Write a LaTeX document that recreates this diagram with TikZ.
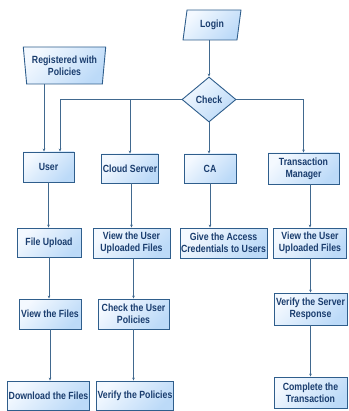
\documentclass[tikz,border=0pt]{standalone}
\usepackage{fontspec}
\setmainfont{Liberation Sans}[FakeStretch=0.84]
\usetikzlibrary{shapes.geometric,arrows.meta,calc}
\definecolor{boxedge}{HTML}{2F5E8C}
\definecolor{boxlight}{HTML}{F4F9FF}
\definecolor{boxdark}{HTML}{BCDAF8}
\definecolor{boxtext}{HTML}{1A3D6E}
\definecolor{wire}{HTML}{41698F}
\begin{document}
\begin{tikzpicture}[x=1pt,y=-1pt,
  every node/.style={font=\fontsize{10.4}{11.7}\selectfont\bfseries, text=boxtext, align=center, inner sep=1pt},
  shaded/.style={draw=boxedge, line width=0.9pt, top color=boxlight, bottom color=boxdark, shading angle=45},
  stepbox/.style={shaded, rectangle},
  arr/.style={draw=wire, line width=0.9pt, -{Stealth[length=3pt,width=2.6pt]}}]
\useasboundingbox (0,0) rectangle (348,411);

% start symbols
\node[shaded, trapezium, trapezium stretches=true, trapezium left angle=80, trapezium right angle=100,
      minimum width=58, minimum height=30] (login) at (212,25) {Login};
\node[shaded, trapezium, trapezium stretches=true, trapezium left angle=98, trapezium right angle=98,
      minimum width=83, minimum height=37] (reg) at (64.5,65.5) {Registered with\\Policies};
\node[shaded, diamond, minimum width=54, minimum height=45, inner sep=0pt] (check) at (209,99.5) {Check};

% roles
\node[stepbox, minimum width=51, minimum height=30] (user)  at (48.5,167)   {User};
\node[stepbox, minimum width=56, minimum height=29] (cloud) at (130,168.5)  {Cloud Server};
\node[stepbox, minimum width=52, minimum height=29] (ca)    at (210,168.5)  {CA};
\node[stepbox, minimum width=71, minimum height=31] (tm)    at (303.5,168.5){Transaction\\Manager};

% second row
\node[stepbox, minimum width=64, minimum height=29] (fup)   at (49,242.5)   {File Upload};
\node[stepbox, minimum width=77, minimum height=30] (cview) at (131.5,243)  {View the User\\Uploaded Files};
\node[stepbox, minimum width=87, minimum height=30] (give)  at (223.5,243)  {Give the Access\\Credentials to Users};
\node[stepbox, minimum width=73, minimum height=30] (tview) at (310,243)    {View the User\\Uploaded Files};

% third row
\node[stepbox, minimum width=62, minimum height=30] (vfiles) at (50,314)    {View the Files};
\node[stepbox, minimum width=71, minimum height=30] (cpol)   at (133.5,314)  {Check the User\\Policies};
\node[stepbox, minimum width=73, minimum height=32] (vresp)  at (310.5,309)  {Verify the Server\\Response};

% fourth row
\node[stepbox, minimum width=81, minimum height=29] (dl)   at (48.5,395.5) {Download the Files};
\node[stepbox, minimum width=76, minimum height=29] (vpol) at (135,395.5)  {Verify the Policies};
\node[stepbox, minimum width=73, minimum height=31] (comp) at (310.5,392.5) {Complete the\\Transaction};

% drop points into the User box
\coordinate (jr) at (44,0);
\coordinate (ju) at (60,0);

% connectors from the top of the chart
\draw[arr] (check.north |- login.south) -- (check.north);
\draw[arr] (reg.south -| jr) -- (user.north -| jr);
\draw[arr] (check.west) -| (user.north -| ju);
\draw[arr] (check.west -| cloud.north) -- (cloud.north);
\draw[arr] (check.south) -- (ca.north -| check.south);
\draw[arr] (check.east) -| (tm.north);

% user column
\draw[arr] (user.south) -- (user.south |- fup.north);
\draw[arr] (fup.south) -- (fup.south |- vfiles.north);
\draw[arr] (vfiles.south) -- (vfiles.south |- dl.north);

% cloud server column
\draw[arr] (cview.north |- cloud.south) -- (cview.north);
\draw[arr] (cpol.north |- cview.south) -- (cpol.north);
\draw[arr] (cpol.south) -- (cpol.south |- vpol.north);

% CA column
\draw[arr] (ca.south) -- (ca.south |- give.north);

% transaction manager column
\draw[arr] (tview.north |- tm.south) -- (tview.north);
\draw[arr] (vresp.north |- tview.south) -- (vresp.north);
\draw[arr] (vresp.south) -- (comp.north);
\end{tikzpicture}
\end{document}
